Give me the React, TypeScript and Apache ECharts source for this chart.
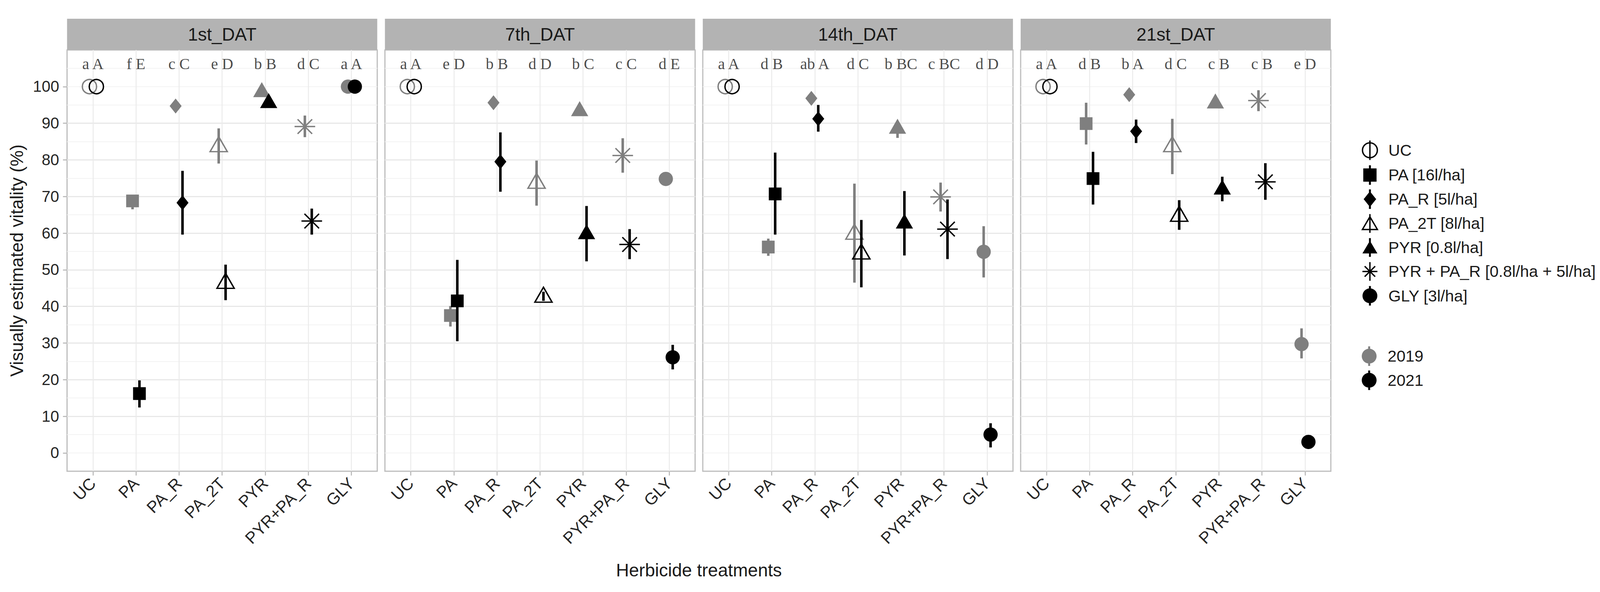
import React, { useEffect, useRef } from 'react';
import * as echarts from 'echarts';

const CATEGORIES = ['UC', 'PA', 'PA_R', 'PA_2T', 'PYR', 'PYR+PA_R', 'GLY'];
const PANELS = ['1st_DAT', '7th_DAT', '14th_DAT', '21st_DAT'];
const TREATMENT_LEGEND = ['UC', 'PA [16l/ha]', 'PA_R [5l/ha]', 'PA_2T [8l/ha]', 'PYR [0.8l/ha]', 'PYR + PA_R [0.8l/ha + 5l/ha]', 'GLY [3l/ha]'];
const YEARS = ['2019', '2021'];
const Y_TICKS = [0, 10, 20, 30, 40, 50, 60, 70, 80, 90, 100];
const X_TICKS = [0, 1, 2, 3, 4, 5, 6];

// rows = panels (1st, 7th, 14th, 21st DAT), columns = CATEGORIES
const MEAN_2019 = [
  [100, 68.8, 94.7, 83.6, 98.5, 89.1, 100],
  [100, 37.5, 95.6, 73.6, 93.3, 81.2, 74.8],
  [100, 56.2, 96.8, 59.7, 88.5, 69.9, 54.9],
  [100, 89.9, 97.8, 83.6, 95.4, 96.2, 29.7],
];
const LOW_2019 = [
  [100, 66.5, 93.3, 79.0, 97.5, 86.2, 100],
  [100, 34.5, 94.5, 67.5, 92.5, 76.5, 74.0],
  [100, 53.8, 96.0, 46.5, 86.0, 65.9, 47.9],
  [100, 84.2, 97.0, 76.1, 94.6, 93.3, 25.8],
];
const HIGH_2019 = [
  [100, 70.3, 96.1, 88.6, 99.5, 92.1, 100],
  [100, 40.1, 96.7, 79.8, 94.2, 85.9, 75.6],
  [100, 58.5, 97.6, 73.5, 90.5, 73.8, 61.9],
  [100, 95.6, 98.6, 91.2, 96.2, 99.0, 34.0],
];
const MEAN_2021 = [
  [100, 16.2, 68.3, 46.3, 95.5, 63.3, 100],
  [100, 41.5, 79.5, 42.5, 59.7, 56.9, 26.1],
  [100, 70.7, 91.2, 54.3, 62.6, 61.1, 5.0],
  [100, 74.9, 87.8, 64.6, 71.9, 74.0, 3.0],
];
const LOW_2021 = [
  [100, 12.4, 59.6, 41.7, 95.0, 59.6, 100],
  [100, 30.5, 71.3, 41.5, 52.3, 52.9, 22.8],
  [100, 59.6, 87.7, 45.2, 53.9, 52.9, 1.5],
  [100, 67.8, 84.6, 60.9, 68.7, 69.1, 2.5],
];
const HIGH_2021 = [
  [100, 19.8, 77.0, 51.4, 96.0, 66.7, 100],
  [100, 52.7, 87.5, 44.0, 67.4, 61.1, 29.5],
  [100, 82.0, 95.0, 63.6, 71.5, 69.2, 8.1],
  [100, 82.2, 91.0, 69.0, 75.4, 79.1, 3.5],
];
const LETTERS = [
  ['a A', 'f E', 'c C', 'e D', 'b B', 'd C', 'a A'],
  ['a A', 'e D', 'b B', 'd D', 'b C', 'c C', 'd E'],
  ['a A', 'd B', 'ab A', 'd C', 'b BC', 'c BC', 'd D'],
  ['a A', 'd B', 'b A', 'd C', 'c B', 'c B', 'e D'],
];
const LETTER_Y = 106.2;

const SANS = '"Liberation Sans", Arial, sans-serif';
const SERIF = '"Liberation Serif", "Times New Roman", serif';
const GREY = '#7f7f7f';
const BLACK = '#000000';
const YEAR_COLORS = [GREY, BLACK];
const DODGE = 0.08;

// layout in reference pixels (4271 x 1516), scaled to the actual viewport
const REF_W = 4271;
const REF_H = 1516;
const GRID_LEFT = 179;
const GRID_STEP = 848.5;
const GRID_W = 828;
const GRID_TOP = 128;
const GRID_H = 1078.7;
const STRIP_TOP = 48;

const ASTERISK = 'path://M10 0L10 20M0 10L20 10M2.93 2.93L17.07 17.07M2.93 17.07L17.07 2.93';
const TRANSPARENT = 'rgba(0,0,0,0)';

const LEGEND_ICONS = [
  'path://M1 25A19 19 0 1 1 39 25A19 19 0 1 1 1 25Z M20 0L20 50',
  'path://M3 8L37 8L37 42L3 42Z M17.5 0L22.5 0L22.5 50L17.5 50Z',
  'path://M20 5L36 25L20 45L4 25Z M17.5 0L22.5 0L22.5 50L17.5 50Z',
  'path://M20 7L40 41L0 41Z M20 0L20 50',
  'path://M20 7L40 41L0 41Z M17.5 0L22.5 0L22.5 50L17.5 50Z',
  'path://M20 0L20 50 M0 25L40 25 M6 11L34 39 M6 39L34 11',
  'path://M1 25A19 19 0 1 1 39 25A19 19 0 1 1 1 25Z M17.5 0L22.5 0L22.5 50L17.5 50Z',
];
const LEGEND_STROKED = [true, false, false, true, false, true, false];
const YEAR_ICON = 'path://M1 25A19 19 0 1 1 39 25A19 19 0 1 1 1 25Z M17.5 0L22.5 0L22.5 50L17.5 50Z';

function buildOption(W: number, H: number) {
  const sx = W / REF_W;
  const sy = H / REF_H;
  const sf = Math.min(sx, sy);
  const X = (v: number) => v * sx;
  const Y = (v: number) => v * sy;
  const F = (v: number) => v * sf;

  function symbolFor(i: number, color: string) {
    switch (i) {
      case 0:
        return { symbol: 'circle', symbolSize: F(38), itemStyle: { color: TRANSPARENT, borderColor: color, borderWidth: 3.5, opacity: 1 } };
      case 1:
        return { symbol: 'rect', symbolSize: F(34), itemStyle: { color, opacity: 1 } };
      case 2:
        return { symbol: 'diamond', symbolSize: [F(32), F(40)], itemStyle: { color, opacity: 1 } };
      case 3:
        return { symbol: 'triangle', symbolSize: [F(46), F(40)], symbolOffset: [0, -F(6.7)], itemStyle: { color: TRANSPARENT, borderColor: color, borderWidth: 3.5, opacity: 1 } };
      case 4:
        return { symbol: 'triangle', symbolSize: [F(46), F(40)], symbolOffset: [0, -F(6.7)], itemStyle: { color, opacity: 1 } };
      case 5:
        return { symbol: ASTERISK, symbolSize: F(55), itemStyle: { color: TRANSPARENT, borderColor: color, borderWidth: 3.5, opacity: 1 } };
      default:
        return { symbol: 'circle', symbolSize: F(38), itemStyle: { color, opacity: 1 } };
    }
  }

  const grids: any[] = [];
  const xAxes: any[] = [];
  const yAxes: any[] = [];
  const series: any[] = [];
  const graphics: any[] = [];

  PANELS.forEach((panel, p) => {
    const left = GRID_LEFT + p * GRID_STEP;
    grids.push({
      left: X(left), top: Y(GRID_TOP), width: X(GRID_W), height: Y(GRID_H),
      show: true, borderColor: '#BDBDBD', borderWidth: 3, backgroundColor: '#ffffff',
    });
    xAxes.push({
      type: 'value', gridIndex: p, min: -0.6, max: 6.6,
      axisLine: { show: false, onZero: false },
      axisTick: { show: true, customValues: X_TICKS, length: Y(11), lineStyle: { color: '#B3B3B3', width: 2.5 } },
      axisLabel: {
        customValues: X_TICKS,
        formatter: (v: number) => CATEGORIES[Math.round(v)] ?? '',
        rotate: 45, margin: Y(24), fontSize: F(44), color: '#262626', fontFamily: SANS,
      },
      splitLine: { show: true, lineStyle: { color: '#EBEBEB', width: 2.5 } },
    });
    // minor grid lines
    yAxes.push({
      type: 'value', gridIndex: p, min: -5, max: 110, interval: 5, position: 'left',
      axisLine: { show: false, onZero: false }, axisTick: { show: false }, axisLabel: { show: false },
      splitLine: { show: true, showMinLine: false, showMaxLine: false, lineStyle: { color: '#F3F3F3', width: 2 } },
    });
    // major axis
    yAxes.push({
      type: 'value', gridIndex: p, min: -5, max: 110, position: 'left',
      axisLine: { show: false, onZero: false },
      axisTick: { show: p === 0, customValues: Y_TICKS, length: X(11), lineStyle: { color: '#B3B3B3', width: 2.5 } },
      axisLabel: { show: p === 0, customValues: Y_TICKS, fontSize: F(42), margin: X(21), color: '#262626', fontFamily: SANS },
      splitLine: { show: true, showMinLine: false, showMaxLine: false, lineStyle: { color: '#E8E8E8', width: 3 } },
      name: p === 0 ? 'Visually estimated vitality (%)' : '',
      nameLocation: 'middle', nameGap: X(110),
      nameTextStyle: { fontSize: F(48), color: '#1a1a1a', fontFamily: SANS },
    });

    const yIdx = 2 * p + 1;
    const yearSets = [
      { mean: MEAN_2019[p], low: LOW_2019[p], high: HIGH_2019[p] },
      { mean: MEAN_2021[p], low: LOW_2021[p], high: HIGH_2021[p] },
    ];
    yearSets.forEach((set, yi) => {
      const color = YEAR_COLORS[yi];
      const off = yi === 0 ? -DODGE : DODGE;
      const errData = CATEGORIES.map((_, i) => [i + off, set.low[i], set.high[i]]).filter((d) => d[2] - d[1] > 0.01);
      series.push({
        type: 'custom', xAxisIndex: p, yAxisIndex: yIdx, z: 2 + yi * 2, silent: true,
        encode: { x: 0, y: [1, 2] },
        data: errData,
        renderItem: (_params: any, api: any) => {
          const x = api.value(0);
          const a = api.coord([x, api.value(1)]);
          const b = api.coord([x, api.value(2)]);
          return {
            type: 'line',
            shape: { x1: a[0], y1: a[1], x2: b[0], y2: b[1] },
            style: { stroke: color, lineWidth: 6.5 },
          };
        },
      });
      CATEGORIES.forEach((_, i) => {
        series.push({
          name: TREATMENT_LEGEND[i], type: 'scatter', xAxisIndex: p, yAxisIndex: yIdx,
          z: 3 + yi * 2, silent: true,
          ...symbolFor(i, color),
          data: [[i + off, set.mean[i]]],
        });
      });
    });

    series.push({
      type: 'scatter', xAxisIndex: p, yAxisIndex: yIdx, z: 6, silent: true,
      symbolSize: 1, itemStyle: { color: TRANSPARENT },
      label: {
        show: true, position: 'inside', formatter: (prm: any) => prm.value[2],
        fontFamily: SERIF, fontSize: F(42), color: '#1a1a1a',
      },
      data: LETTERS[p].map((t, i) => [i, LETTER_Y, t]),
    });

    graphics.push({
      type: 'rect', silent: true,
      shape: { x: X(left), y: Y(STRIP_TOP), width: X(GRID_W), height: Y(GRID_TOP - STRIP_TOP) },
      style: { fill: '#B3B3B3' },
    });
    graphics.push({
      type: 'text', silent: true, x: X(left + GRID_W / 2), y: Y((STRIP_TOP + GRID_TOP) / 2),
      style: { text: panel, fontSize: F(48), fontFamily: SANS, fill: '#1a1a1a', textAlign: 'center', textVerticalAlign: 'middle' },
    });
  });

  YEARS.forEach((y, i) => {
    series.push({
      name: y, type: 'scatter', xAxisIndex: 0, yAxisIndex: 1, data: [],
      itemStyle: { color: YEAR_COLORS[i], opacity: 1 },
    });
  });

  graphics.push({
    type: 'text', silent: true,
    x: X((GRID_LEFT + 3 * GRID_STEP + GRID_W + GRID_LEFT) / 2), y: Y(1460),
    style: { text: 'Herbicide treatments', fontSize: F(48), fontFamily: SANS, fill: '#1a1a1a', textAlign: 'center', textVerticalAlign: 'middle' },
  });

  const legendText = { fontSize: F(43), color: '#1a1a1a', fontFamily: SANS, padding: [0, 0, 0, X(24)] };
  const legendCommon = {
    orient: 'vertical', left: X(3635), itemWidth: F(40), itemHeight: Y(50), itemGap: Y(11.7),
    selectedMode: false, textStyle: legendText, padding: 0,
  };
  const legends = [
    {
      ...legendCommon, top: Y(358),
      data: TREATMENT_LEGEND.map((n, i) => ({
        name: n, icon: LEGEND_ICONS[i],
        itemStyle: LEGEND_STROKED[i]
          ? { color: TRANSPARENT, borderColor: BLACK, borderWidth: 3.5, opacity: 1 }
          : { color: BLACK, borderWidth: 0, opacity: 1 },
      })),
    },
    {
      ...legendCommon, top: Y(887),
      data: YEARS.map((n, i) => ({ name: n, icon: YEAR_ICON, itemStyle: { color: YEAR_COLORS[i], borderWidth: 0, opacity: 1 } })),
    },
  ];

  return {
    animation: false,
    backgroundColor: '#ffffff',
    grid: grids,
    xAxis: xAxes,
    yAxis: yAxes,
    legend: legends,
    graphic: graphics,
    series,
  };
}

export default function App() {
  const ref = useRef<HTMLDivElement>(null);
  useEffect(() => {
    if (!ref.current) return;
    const el = ref.current;
    const W = Math.min(REF_W, document.documentElement.clientWidth || window.innerWidth || REF_W);
    const H = Math.min(REF_H, document.documentElement.clientHeight || window.innerHeight || REF_H);
    el.style.width = W + 'px';
    el.style.height = H + 'px';
    const chart = echarts.init(el, null, { renderer: 'svg', width: W, height: H });
    chart.setOption(buildOption(W, H) as any);
    return () => chart.dispose();
  }, []);
  return (
    <div
      ref={ref}
      style={{ position: 'fixed', left: 0, top: 0, width: REF_W, height: REF_H, background: '#ffffff' }}
    />
  );
}
